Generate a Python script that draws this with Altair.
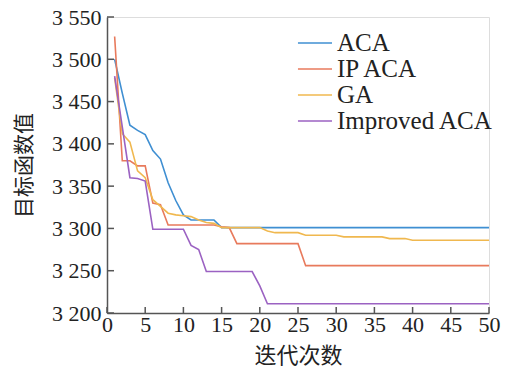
import altair as alt
import pandas as pd

iters = list(range(1, 51))

aca = [3500, 3460, 3422, 3416, 3411, 3392, 3382, 3354, 3333, 3316,
       3310, 3310, 3310, 3310, 3301] + [3301] * 35
ip_aca = [3527, 3380, 3380, 3374, 3374, 3330, 3328, 3304, 3304, 3304,
          3304, 3304, 3304, 3304, 3302, 3301] + [3282] * 9 + [3256] * 25
ga = [3478, 3412, 3402, 3368, 3360, 3334, 3326, 3318, 3316, 3315,
      3314, 3310, 3307, 3306, 3301, 3301, 3301, 3301, 3301, 3301,
      3297, 3295, 3295, 3295, 3295] + [3292] * 5 + [3290] * 6 + [3288] * 3 + [3286] * 11
improved = [3480, 3420, 3360, 3359, 3356, 3299, 3299, 3299, 3299, 3299,
            3280, 3275, 3249, 3249, 3249, 3249, 3249, 3249, 3249, 3232] + [3211] * 30

series_names = ["ACA", "IP ACA", "GA", "Improved ACA"]
series_vals = [aca, ip_aca, ga, improved]
colors = ["#3f8fd2", "#e87a5c", "#f0b84f", "#9b62c2"]

x_ticks = list(range(0, 51, 5))
y_ticks = list(range(3200, 3551, 50))

rows = []
for name, vals in zip(series_names, series_vals):
    for i, v in zip(iters, vals):
        rows.append({"iter": i, "value": v, "series": name})
df = pd.DataFrame(rows)

W, H = 382, 296
serif = "Liberation Serif"
cjk = "Noto Sans CJK SC"

xscale = alt.Scale(domain=[0, 50], nice=False)
yscale = alt.Scale(domain=[3200, 3550], nice=False)

xaxis = alt.Axis(values=x_ticks, title="迭代次数", tickSize=0,
                 labelPadding=1, labelFontSize=22, labelFont=serif,
                 titleFont=cjk, titleFontSize=22, titleFontWeight="normal",
                 titlePadding=10, grid=False, labelColor="#222", titleColor="#222",
                 domainColor="#555", domainWidth=1.5, labelFlush=False)
yaxis = alt.Axis(values=y_ticks, title="目标函数值", tickSize=0,
                 labelPadding=6, labelFontSize=22, labelFont=serif,
                 labelExpr="replace(format(datum.value, ','), ',', ' ')",
                 titleFont=cjk, titleFontSize=21, titleFontWeight="normal",
                 titlePadding=17, grid=False, labelColor="#222", titleColor="#222",
                 domainColor="#555", domainWidth=1.5, labelFlush=False)

lines = alt.Chart(df).mark_line(strokeWidth=1.6).encode(
    x=alt.X("iter:Q", scale=xscale, axis=xaxis),
    y=alt.Y("value:Q", scale=yscale, axis=yaxis),
    color=alt.Color("series:N", sort=series_names,
                    scale=alt.Scale(domain=series_names, range=colors),
                    legend=alt.Legend(title=None, orient="none", legendX=195, legendY=13,
                                      symbolType="M-1.42,0H1.42", symbolSize=576,
                                      symbolStrokeWidth=1.4, labelFont=serif,
                                      labelFontSize=25, labelColor="#222",
                                      labelOffset=9, rowPadding=0, padding=0)),
    order=alt.Order("iter:Q"),
)

ytick_df = pd.DataFrame({"v": y_ticks})
xtick_df = pd.DataFrame({"v": x_ticks})

yt = alt.Chart(ytick_df).mark_rule(color="#555", strokeWidth=1.5).encode(
    y=alt.Y("v:Q", scale=yscale, axis=yaxis), x=alt.value(0), x2=alt.value(7))
xt = alt.Chart(xtick_df).mark_rule(color="#555", strokeWidth=1.5).encode(
    x=alt.X("v:Q", scale=xscale, axis=xaxis), y=alt.value(H), y2=alt.value(H - 6))

chart = alt.layer(lines, yt, xt).properties(
    width=W, height=H,
    autosize=alt.AutoSizeParams(type="none"),
    padding={"left": 107, "top": 17, "right": 16, "bottom": 64},
).configure_view(stroke=None).configure(background="white").configure_axis(
    labelFont=serif
)

chart.save("out.html", embed_options={"renderer": "svg", "actions": False})
